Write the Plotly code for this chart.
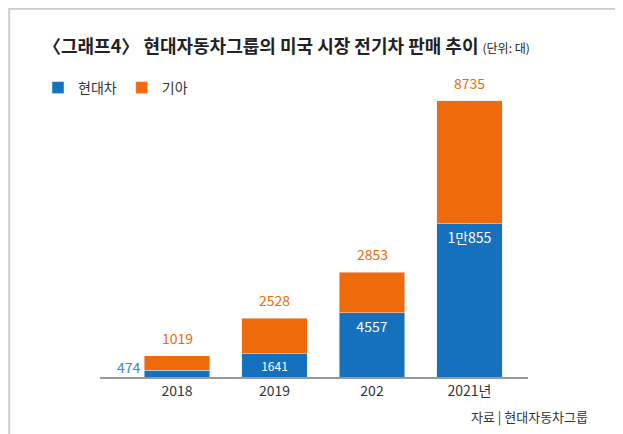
import plotly.graph_objects as go

years = ["2018", "2019", "202", "2021년"]
hyundai = [474, 1641, 4557, 10855]
kia = [1019, 2528, 2853, 8735]
hyundai_labels = ["474", "1641", "4557", "1만855"]
kia_labels = ["1019", "2528", "2853", "8735"]

BLUE = "#1570BE"
ORANGE = "#EE6A0A"
FONT = "Noto Sans CJK KR"
W, H = 623, 434

fig = go.Figure()
fig.add_bar(x=years, y=hyundai, name="현대차", marker_color=BLUE, width=0.67,
            text=[""] + hyundai_labels[1:], textposition="inside", insidetextanchor="end",
            textfont=dict(color="white", size=14, family=FONT), hoverinfo="skip")
fig.add_bar(x=years, y=kia, name="기아", marker_color=ORANGE, width=0.67, hoverinfo="skip")

for i in range(len(years)):
    fig.add_annotation(x=i, y=hyundai[i] + kia[i], text=kia_labels[i], showarrow=False,
                       yanchor="bottom", yshift=6, font=dict(color=ORANGE, size=14, family=FONT))
fig.add_annotation(x=0, y=0, text=hyundai_labels[0], showarrow=False,
                   xanchor="right", yanchor="bottom", xshift=-34, yshift=-2,
                   font=dict(color="#3B86C8", size=14, family=FONT))

fig.add_annotation(xref="paper", yref="paper", x=33 / W, y=1 - 37 / H,
                   text="<b>〈그래프4〉 현대자동차그룹의 미국 시장 전기차 판매 추이</b> <span style='font-size:12px'>(단위: 대)</span>",
                   showarrow=False, xanchor="left", yanchor="middle",
                   font=dict(size=18, color="#222", family=FONT))
fig.add_annotation(xref="paper", yref="paper", x=582 / W, y=1 - 408 / H,
                   text="자료 | 현대자동차그룹", showarrow=False, xanchor="right", yanchor="middle",
                   font=dict(size=13, color="#333", family=FONT))

fig.update_layout(
    width=W, height=H, barmode="stack",
    paper_bgcolor="white", plot_bgcolor="white",
    margin=dict(l=0, r=0, t=0, b=0),
    font=dict(family=FONT, color="#333"),
    showlegend=True,
    legend=dict(orientation="h", x=30 / W, y=1 - 80 / H, xanchor="left", yanchor="middle",
                font=dict(size=14, family=FONT), traceorder="normal",
                itemwidth=30, bgcolor="rgba(0,0,0,0)"),
    xaxis=dict(type="category", domain=[92 / W, 520 / W], range=[-0.79, 3.6],
               showline=True, linecolor="#999", linewidth=2,
               ticks="", tickfont=dict(size=14, color="#333")),
    yaxis=dict(domain=[65 / H, 1 - 60 / H], range=[0, 21900], visible=False),
    shapes=[dict(type="rect", xref="paper", yref="paper", x0=0.002, x1=0.998, y0=0.002, y1=0.998,
                 line=dict(color="#ccc", width=2))],
)
fig.write_html("out.html")
